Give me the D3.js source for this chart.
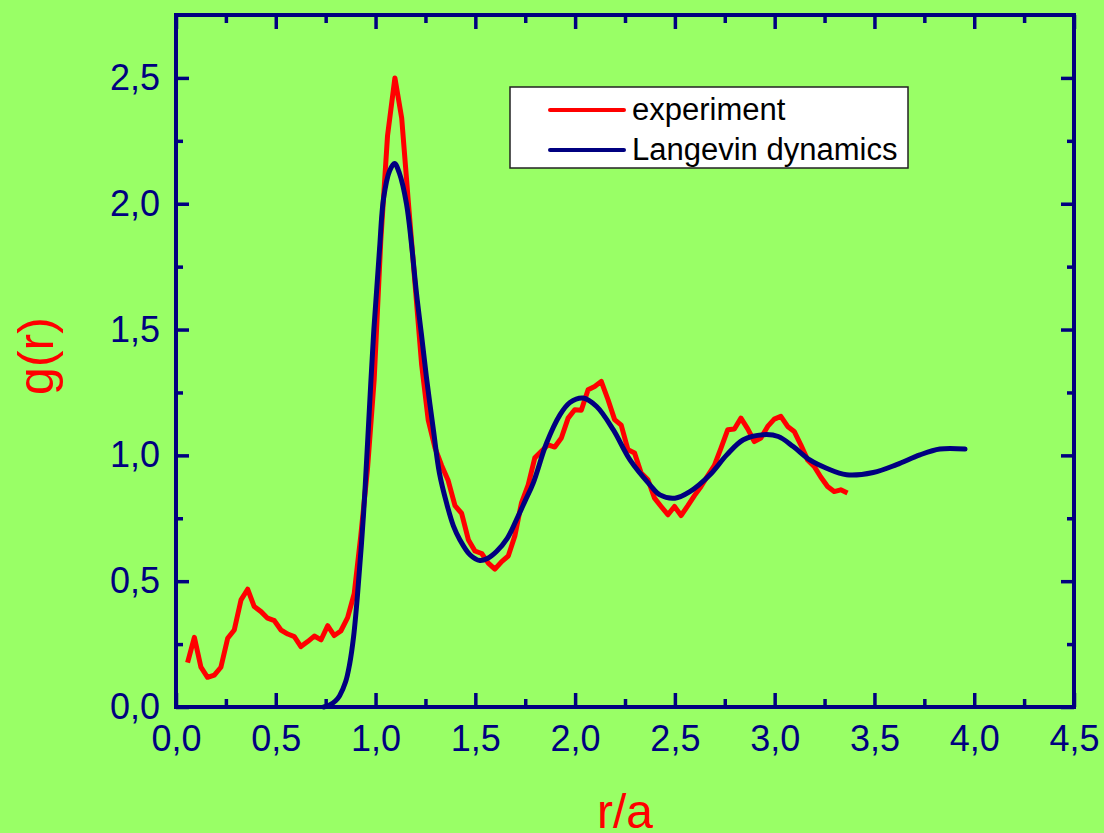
<!DOCTYPE html>
<html lang="en">
<head>
  <meta charset="UTF-8">
  <title>g(r)</title>
  <script src="https://d3js.org/d3.v7.min.js"></script>
  <style>
    body { margin: 0; background: #99ff66; }
    svg { display: block; font-family: "Liberation Sans", Arial, sans-serif; }
    .tick text { fill: #000080; font-size: 36px; }
    .tick line { stroke: #000080; stroke-width: 3.5; }
  </style>
</head>
<body>
  <svg width="1104" height="833"></svg>

  <script>
    // experiment (red)
    const expR = [0.058, 0.092, 0.125, 0.158, 0.192, 0.225, 0.259, 0.292, 0.326, 0.359,
      0.392, 0.426, 0.459, 0.493, 0.526, 0.56, 0.593, 0.626, 0.66, 0.693,
      0.727, 0.76, 0.793, 0.826, 0.86, 0.893, 0.926, 0.96, 0.993, 1.026,
      1.06, 1.097, 1.131, 1.165, 1.198, 1.231, 1.264, 1.298, 1.331, 1.364,
      1.398, 1.431, 1.465, 1.498, 1.532, 1.565, 1.598, 1.632, 1.665, 1.698,
      1.731, 1.765, 1.798, 1.831, 1.865, 1.898, 1.931, 1.965, 1.998, 2.031,
      2.065, 2.098, 2.131, 2.165, 2.198, 2.231, 2.265, 2.298, 2.331, 2.365,
      2.398, 2.431, 2.465, 2.498, 2.531, 2.565, 2.598, 2.631, 2.665, 2.698,
      2.731, 2.765, 2.798, 2.831, 2.865, 2.898, 2.931, 2.965, 2.998, 3.031,
      3.065, 3.098, 3.131, 3.165, 3.198, 3.231, 3.265, 3.298, 3.331, 3.365];
    const expG = [0.176, 0.277, 0.158, 0.118, 0.127, 0.158, 0.273, 0.306, 0.426, 0.468,
      0.399, 0.379, 0.353, 0.343, 0.306, 0.29, 0.28, 0.24, 0.26, 0.282,
      0.267, 0.323, 0.284, 0.302, 0.355, 0.45, 0.68, 0.95, 1.3, 1.85,
      2.27, 2.5, 2.34, 2.0, 1.68, 1.36, 1.14, 1.03, 0.96, 0.9,
      0.8, 0.77, 0.665, 0.62, 0.61, 0.572, 0.548, 0.578, 0.6, 0.68,
      0.81, 0.883, 0.99, 1.016, 1.042, 1.033, 1.069, 1.148, 1.181, 1.179,
      1.261, 1.274, 1.294, 1.221, 1.142, 1.12, 1.022, 1.009, 0.93, 0.903,
      0.83, 0.797, 0.764, 0.797, 0.761, 0.8, 0.84, 0.876, 0.92, 0.96,
      1.029, 1.102, 1.105, 1.148, 1.105, 1.055, 1.069, 1.115, 1.144, 1.155,
      1.115, 1.095, 1.042, 0.982, 0.956, 0.914, 0.876, 0.856, 0.863, 0.85];

    // Langevin dynamics (blue)
    const ldR = [0.74, 0.77, 0.8, 0.82, 0.85, 0.87, 0.89, 0.91, 0.94, 0.96,
      0.99, 1.02, 1.04, 1.07, 1.095, 1.12, 1.155, 1.18, 1.205, 1.23,
      1.255, 1.29, 1.32, 1.356, 1.39, 1.423, 1.473, 1.523, 1.56, 1.606,
      1.66, 1.706, 1.75, 1.79, 1.857, 1.924, 1.974, 2.04, 2.108, 2.191,
      2.275, 2.375, 2.425, 2.5, 2.575, 2.676, 2.76, 2.843, 2.943, 3.018,
      3.093, 3.176, 3.26, 3.36, 3.494, 3.611, 3.728, 3.828, 3.954];
    const ldG = [0.0, 0.008, 0.025, 0.045, 0.1, 0.17, 0.28, 0.45, 0.77, 1.05,
      1.48, 1.82, 2.02, 2.13, 2.16, 2.12, 2.0, 1.84, 1.645, 1.48,
      1.31, 1.1, 0.93, 0.81, 0.72, 0.664, 0.605, 0.582, 0.59, 0.618,
      0.67, 0.744, 0.82, 0.89, 1.049, 1.161, 1.21, 1.228, 1.194, 1.102,
      0.982, 0.883, 0.843, 0.83, 0.856, 0.923, 1.002, 1.062, 1.082, 1.075,
      1.035, 0.982, 0.949, 0.923, 0.932, 0.963, 1.002, 1.025, 1.025];

    const xMajor = [0, 0.5, 1, 1.5, 2, 2.5, 3, 3.5, 4, 4.5];
    const xMinor = [0.25, 0.75, 1.25, 1.75, 2.25, 2.75, 3.25, 3.75, 4.25];
    const yMajor = [0, 0.5, 1, 1.5, 2, 2.5];
    const yMinor = [0.25, 0.75, 1.25, 1.75, 2.25];

    const margin = { top: 15, left: 176 },
          width = 898,
          height = 692;
    const navy = "#000080";

    const svg = d3.select("svg");
    const g = svg.append("g")
      .attr("transform", `translate(${margin.left},${margin.top})`);

    const x = d3.scaleLinear().domain([0, 4.5]).range([0, width]);
    const y = d3.scaleLinear().domain([0, 2.75]).range([height, 0]);

    const fmt = d => d3.format(".1f")(d).replace(".", ",");

    // inward ticks on all four sides
    function ticks(axis, values, size, labels) {
      return axis.tickValues(values).tickSize(-size)
        .tickFormat(labels ? fmt : "");
    }
    g.append("g").attr("transform", `translate(0,${height})`)
      .call(ticks(d3.axisBottom(x), xMajor, 14, true).tickPadding(18));
    g.append("g").attr("transform", `translate(0,${height})`)
      .call(ticks(d3.axisBottom(x), xMinor, 8, false));
    g.append("g").call(ticks(d3.axisTop(x), xMajor, 14, false));
    g.append("g").call(ticks(d3.axisTop(x), xMinor, 8, false));
    g.append("g")
      .call(ticks(d3.axisLeft(y), yMajor, 13, true).tickPadding(16));
    g.append("g").call(ticks(d3.axisLeft(y), yMinor, 7, false));
    g.append("g").attr("transform", `translate(${width},0)`)
      .call(ticks(d3.axisRight(y), yMajor, 13, false));
    g.append("g").attr("transform", `translate(${width},0)`)
      .call(ticks(d3.axisRight(y), yMinor, 7, false));
    g.selectAll(".domain").remove();
    g.selectAll(".tick text").attr("font-family", null).attr("font-size", null);

    // lines
    const expLine = d3.line()
      .x((d, i) => x(expR[i]))
      .y(d => y(d));
    const ldLine = d3.line()
      .x((d, i) => x(ldR[i]))
      .y(d => y(d))
      .curve(d3.curveCatmullRom);

    g.append("path")
      .attr("d", expLine(expG))
      .attr("fill", "none")
      .attr("stroke", "#ff0000")
      .attr("stroke-width", 5)
      .attr("stroke-linejoin", "round");
    g.append("path")
      .attr("d", ldLine(ldG))
      .attr("fill", "none")
      .attr("stroke", navy)
      .attr("stroke-width", 5)
      .attr("stroke-linecap", "round");

    // frame
    g.append("rect")
      .attr("width", width)
      .attr("height", height)
      .attr("fill", "none")
      .attr("stroke", navy)
      .attr("stroke-width", 4);

    // axis titles
    svg.append("text")
      .attr("transform", "translate(53,356) rotate(-90)")
      .attr("text-anchor", "middle")
      .attr("fill", "#ff0000")
      .attr("font-size", 50)
      .text("g(r)");
    svg.append("text")
      .attr("x", margin.left + width / 2)
      .attr("y", 828)
      .attr("text-anchor", "middle")
      .attr("fill", "#ff0000")
      .attr("font-size", 48)
      .text("r/a");

    // legend
    const legend = svg.append("g").attr("transform", "translate(510,87)");
    legend.append("rect")
      .attr("width", 398).attr("height", 81)
      .attr("fill", "#ffffff")
      .attr("stroke", "#222222")
      .attr("stroke-width", 1.5);
    [["experiment", "#ff0000"], ["Langevin dynamics", navy]].forEach(([name, color], i) => {
      const ly = 23 + i * 40;
      legend.append("line")
        .attr("x1", 40).attr("x2", 114)
        .attr("y1", ly).attr("y2", ly)
        .attr("stroke", color)
        .attr("stroke-width", 4)
        .attr("stroke-linecap", "round");
      legend.append("text")
        .attr("x", 122).attr("y", ly + 10)
        .attr("font-size", 31)
        .attr("fill", "#000")
        .text(name);
    });
  </script>
</body>
</html>
